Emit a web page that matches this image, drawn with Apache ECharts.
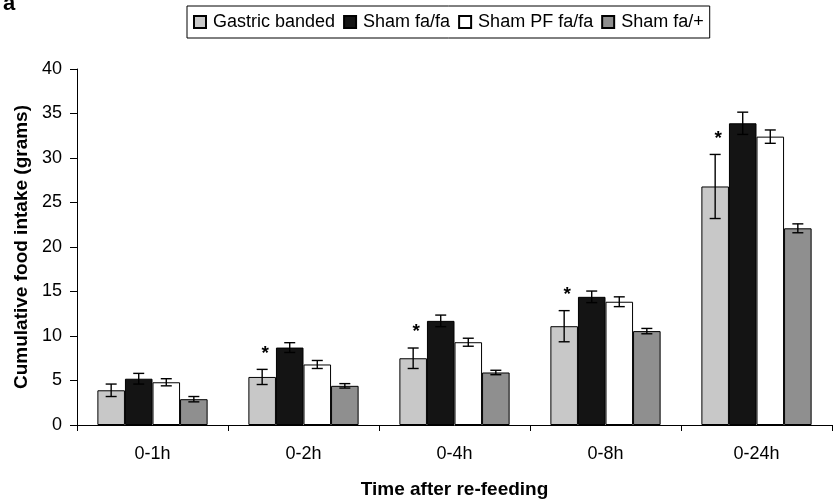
<!DOCTYPE html>
<html><head><meta charset="utf-8">
<script src="https://cdn.jsdelivr.net/npm/echarts@6/dist/echarts.min.js"></script>
<style>html,body{margin:0;padding:0;background:#fff}#c{width:836px;height:504px}</style>
</head><body><div id="c"></div>
<script>
var categories = ['0-1h', '0-2h', '0-4h', '0-8h', '0-24h'];
var seriesNames = ['Gastric banded', 'Sham fa/fa', 'Sham PF fa/fa', 'Sham fa/+'];
var gastric = [3.9, 5.4, 7.5, 11.1, 26.8];
var gastricErr = [0.7, 0.85, 1.15, 1.75, 3.6];
var shamFa = [5.2, 8.7, 11.7, 14.4, 33.9];
var shamFaErr = [0.6, 0.55, 0.65, 0.65, 1.25];
var shamPF = [4.8, 6.8, 9.3, 13.85, 32.4];
var shamPFErr = [0.4, 0.45, 0.45, 0.55, 0.75];
var shamFaPlus = [2.9, 4.4, 5.9, 10.55, 22.1];
var shamFaPlusErr = [0.3, 0.25, 0.25, 0.3, 0.5];
var significance = ['', '*', '*', '*', '*'];
var yTicks = [0, 5, 10, 15, 20, 25, 30, 35, 40];

var colors = ['#c8c8c8', '#141414', '#ffffff', '#8f8f8f'];
var values = [gastric, shamFa, shamPF, shamFaPlus];
var errs = [gastricErr, shamFaErr, shamPFErr, shamFaPlusErr];
var CAT_GAP = 0.27;
var FONT = '"Liberation Sans", Arial, sans-serif';

var chart = echarts.init(document.getElementById('c'), null, {renderer: 'canvas'});

var series = [];
values.forEach(function (v, i) {
  series.push({
    name: seriesNames[i], type: 'bar', data: v,
    barGap: '0%', barCategoryGap: (CAT_GAP * 100) + '%',
    itemStyle: {color: colors[i], borderColor: '#000', borderWidth: 1},
    emphasis: {disabled: true}, z: 2
  });
});
values.forEach(function (v, i) {
  series.push({
    type: 'custom', name: 'err' + i, z: 5, silent: true,
    data: v.map(function (val, k) { return [k, val, errs[i][k]]; }),
    renderItem: function (params, api) {
      var k = api.value(0), val = api.value(1), e = api.value(2);
      var band = api.size([1, 0])[0];
      var bw = band * (1 - CAT_GAP) / 4;
      var c = api.coord([k, val]);
      var x = c[0] + (i - 1.5) * bw;
      var top = api.coord([k, val + e])[1];
      var bot = api.coord([k, val - e])[1];
      var cap = 5.5;
      var st = {stroke: '#000', lineWidth: 1.4};
      var children = [
        {type: 'line', shape: {x1: x, y1: top, x2: x, y2: bot}, style: st},
        {type: 'line', shape: {x1: x - cap, y1: top, x2: x + cap, y2: top}, style: st},
        {type: 'line', shape: {x1: x - cap, y1: bot, x2: x + cap, y2: bot}, style: st}
      ];
      var sig = significance[k];
      if (i === 0 && sig) {
        children.push({type: 'text', style: {text: sig, x: x + 3, y: top - 16, fill: '#000',
          font: 'bold 19px ' + FONT, textAlign: 'center', textVerticalAlign: 'middle'}});
      }
      return {type: 'group', children: children};
    }
  });
});

chart.setOption({
  animation: false,
  backgroundColor: '#fff',
  textStyle: {fontFamily: FONT},
  grid: {left: 77, right: 4, top: 69, bottom: 76, containLabel: false},
  legend: {
    data: seriesNames, top: 6, left: 187,
    itemWidth: 12, itemHeight: 12, itemGap: 8, icon: 'rect',
    borderColor: '#000', borderWidth: 1, borderRadius: 0, padding: [7, 6, 7, 6],
    textStyle: {fontSize: 18, color: '#000', fontFamily: FONT, padding: [0, 0, 0, 2]},
    selectedMode: false
  },
  xAxis: {
    type: 'category', data: categories,
    axisLine: {lineStyle: {color: '#000', width: 1}},
    axisTick: {show: true, alignWithLabel: false, length: 6, lineStyle: {color: '#000'}},
    axisLabel: {fontSize: 18, color: '#000', margin: 20, fontFamily: FONT},
    name: 'Time after re-feeding', nameLocation: 'middle', nameGap: 55,
    nameTextStyle: {fontSize: 19, fontWeight: 'bold', color: '#000', fontFamily: FONT}
  },
  yAxis: {
    type: 'value', min: 0, max: 40, interval: 5,
    axisLine: {show: true, lineStyle: {color: '#000', width: 1}},
    axisTick: {show: true, length: 7, lineStyle: {color: '#000'}},
    splitLine: {show: false},
    axisLabel: {fontSize: 18, color: '#000', margin: 15, fontFamily: FONT,
      formatter: function (v) { return yTicks.indexOf(v) >= 0 ? String(v) : ''; }},
    name: 'Cumulative food intake (grams)', nameLocation: 'middle', nameGap: 43,
    nameTextStyle: {fontSize: 19, fontWeight: 'bold', color: '#000', fontFamily: FONT}
  },
  graphic: [{type: 'text', left: 3, top: -7, style: {text: 'a', font: 'bold 22px ' + FONT, fill: '#000'}}],
  series: series
});
</script></body></html>
